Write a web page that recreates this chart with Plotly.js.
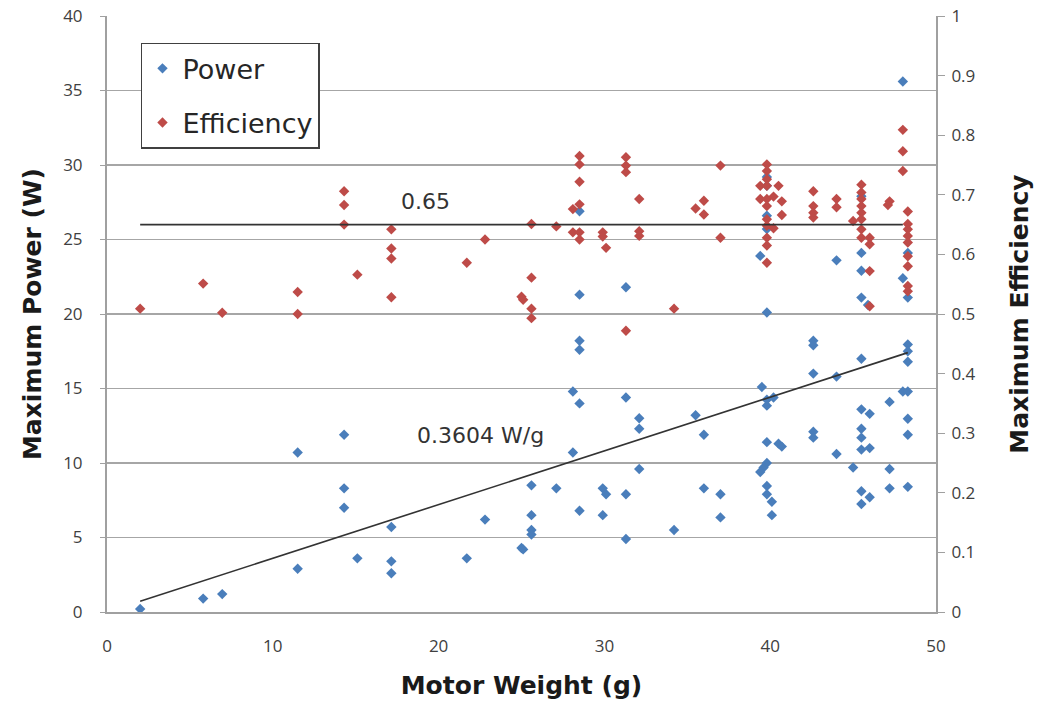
<!DOCTYPE html>
<html>
<head>
<meta charset="utf-8">
<script src="https://cdn.plot.ly/plotly-3.0.1.min.js"></script>
<style>html,body{margin:0;padding:0;background:#fff;}#chart{width:1040px;height:705px;}</style>
</head>
<body>
<div id="chart"></div>
<script>
// Motor weight (g) and maximum power (W)
const powerWeight = [2.0,5.8,6.95,11.5,11.5,14.3,14.3,14.3,15.1,17.15,17.15,17.15,21.7,22.8,25.0,25.1,25.6,25.6,25.6,25.6,27.1,28.1,28.1,28.5,28.5,28.5,28.5,28.5,28.5,29.9,30.1,29.9,31.3,31.3,31.3,31.3,32.1,32.1,32.1,34.2,35.5,36.0,36.0,37.0,37.0,39.4,39.8,39.8,39.8,39.8,39.8,39.5,39.8,40.2,39.8,39.8,40.5,40.7,39.8,39.6,39.4,39.8,39.8,40.1,40.1,42.6,42.6,42.6,42.6,42.6,44.0,44.0,44.0,45.5,45.5,45.5,45.5,45.9,45.5,45.5,46.0,45.5,45.5,45.5,46.0,45.0,45.5,46.0,45.5,47.2,47.2,47.2,48.0,48.0,48.3,48.3,48.3,48.3,48.3,48.0,48.3,48.3,48.3,48.3];
const powerValues = [0.2,0.9,1.2,10.7,2.9,11.9,8.3,7.0,3.6,5.7,3.4,2.6,3.6,6.2,4.3,4.2,8.5,6.5,5.5,5.2,8.3,14.8,10.7,26.9,21.3,18.2,17.6,14.0,6.8,8.3,7.9,6.5,21.8,14.4,7.9,4.9,13.0,12.3,9.6,5.5,13.2,11.9,8.3,7.9,6.35,23.9,29.2,28.6,26.6,25.7,20.1,15.1,14.25,14.4,13.85,11.4,11.3,11.1,10.0,9.7,9.4,8.46,7.9,7.4,6.5,18.2,17.9,16.0,12.1,11.7,23.6,15.8,10.6,27.9,24.1,22.9,21.1,20.6,17.0,13.6,13.3,12.3,11.7,10.9,11.0,9.7,8.1,7.7,7.25,14.1,9.6,8.3,35.6,22.4,24.1,21.1,17.95,17.5,16.8,14.8,14.8,12.97,11.9,8.4];

// Motor weight (g) and maximum efficiency
const effWeight = [2.0,5.8,6.95,11.5,11.5,14.3,14.3,14.3,15.1,17.15,17.15,17.15,17.15,21.7,22.8,25.0,25.1,25.6,25.6,25.6,25.6,27.1,28.1,28.1,28.5,28.5,28.5,28.5,28.5,28.5,29.9,29.9,30.1,31.3,31.3,31.3,31.3,32.1,32.1,32.1,34.2,35.5,36.0,36.0,37.0,37.0,39.8,39.8,39.8,39.4,39.8,40.5,39.4,39.8,40.2,40.7,39.8,40.7,39.8,39.8,40.2,39.8,39.8,39.8,42.6,42.6,42.6,42.6,44.0,44.0,45.5,45.5,45.5,45.5,45.5,45.5,45.0,45.5,45.5,46.0,46.0,46.0,46.0,47.2,47.1,48.0,48.0,48.0,48.3,48.3,48.3,48.3,48.3,48.3,48.3,48.3,48.3];
const effValues = [0.509,0.551,0.502,0.537,0.500,0.706,0.683,0.650,0.566,0.642,0.610,0.593,0.528,0.586,0.625,0.529,0.524,0.651,0.561,0.509,0.493,0.647,0.676,0.637,0.765,0.751,0.722,0.684,0.637,0.625,0.637,0.630,0.611,0.763,0.749,0.738,0.472,0.693,0.639,0.631,0.509,0.677,0.690,0.667,0.749,0.628,0.751,0.740,0.726,0.715,0.715,0.715,0.693,0.693,0.697,0.689,0.681,0.666,0.659,0.648,0.644,0.628,0.615,0.586,0.706,0.681,0.670,0.662,0.693,0.679,0.717,0.704,0.693,0.681,0.670,0.659,0.656,0.642,0.628,0.628,0.617,0.572,0.513,0.689,0.683,0.809,0.773,0.740,0.672,0.651,0.642,0.631,0.620,0.597,0.580,0.547,0.538];

// Reference lines
const trendSlope = 0.3604;          // W/g, through origin
const trendX = [2.0, 48.3];
const effRefX = [2.0, 48.0];
const effRefValue = 0.65;

const xTicks = [0,10,20,30,40,50];
const yTicks = [0,5,10,15,20,25,30,35,40];
const y2Ticks = [0,0.1,0.2,0.3,0.4,0.5,0.6,0.7,0.8,0.9,1];
const y2TickText = ['0','0.1','0.2','0.3','0.4','0.5','0.6','0.7','0.8','0.9','1'];

const FONT = 'Open Sans, Liberation Sans, sans-serif';
const WIDE = 'DejaVu Sans, Open Sans, sans-serif';
const tickFont = {family: FONT, size: 17, color: '#404040'};
const titleFont = {family: WIDE, size: 25, color: '#1a1a1a', weight: 'bold'};

const traces = [
  {
    x: powerWeight, y: powerValues, name: 'Power', type: 'scatter', mode: 'markers',
    marker: {symbol: 'diamond', size: 8, color: '#4a7ebb'},
    legendgroup: 'p', xaxis: 'x', yaxis: 'y'
  },
  {
    x: effWeight, y: effValues, name: 'Efficiency', type: 'scatter', mode: 'markers',
    marker: {symbol: 'diamond', size: 8, color: '#be4b48'},
    legendgroup: 'e', xaxis: 'x', yaxis: 'y2'
  },
  {
    x: trendX, y: trendX.map(v => v * trendSlope), type: 'scatter', mode: 'lines',
    line: {color: '#333333', width: 1.6}, showlegend: false, hoverinfo: 'skip', yaxis: 'y'
  },
  {
    x: effRefX, y: effRefX.map(() => effRefValue), type: 'scatter', mode: 'lines',
    line: {color: '#333333', width: 1.6}, showlegend: false, hoverinfo: 'skip', yaxis: 'y2'
  }
];

const layout = {
  width: 1040, height: 705,
  margin: {l: 107, r: 104, t: 16, b: 93},
  paper_bgcolor: '#ffffff', plot_bgcolor: '#ffffff',
  showlegend: true,
  legend: {
    x: 0.041, y: 0.955, xanchor: 'left', yanchor: 'top',
    bgcolor: '#ffffff', bordercolor: '#404040', borderwidth: 1.5,
    font: {family: WIDE, size: 27, color: '#262626'},
    traceorder: 'grouped', tracegroupgap: 16, itemwidth: 30
  },
  xaxis: {
    range: [0, 50], tickvals: xTicks, ticktext: xTicks.map(String),
    showgrid: false, zeroline: false, showline: true, linecolor: '#a0a0a0', linewidth: 2,
    ticks: '', tickfont: tickFont, ticklabelstandoff: 18, automargin: false,
    title: {text: 'Motor Weight (g)', font: titleFont, standoff: 20}
  },
  yaxis: {
    range: [0, 40], tickvals: yTicks, ticktext: yTicks.map(String),
    showgrid: true, gridcolor: '#a6a6a6', gridwidth: 1.5, zeroline: false,
    showline: true, linecolor: '#a0a0a0', linewidth: 2, mirror: false,
    ticks: 'outside', ticklen: 5, tickcolor: '#a0a0a0', tickfont: tickFont,
    ticklabelstandoff: 14, automargin: false,
    title: {text: 'Maximum Power (W)', font: titleFont, standoff: 14}
  },
  yaxis2: {
    range: [0, 1], tickvals: y2Ticks, ticktext: y2TickText, overlaying: 'y', side: 'right',
    showgrid: false, zeroline: false, showline: true, linecolor: '#a0a0a0', linewidth: 2,
    ticks: 'outside', ticklen: 7, tickcolor: '#a0a0a0', tickfont: tickFont,
    ticklabelstandoff: 3, automargin: false,
    title: {text: 'Maximum Efficiency', font: titleFont, standoff: 36}
  },
  annotations: [
    {x: 19.2, y: 0.688, xref: 'x', yref: 'y2', text: '0.65', showarrow: false,
     font: {family: WIDE, size: 22, color: '#333333'}},
    {x: 22.5, y: 11.83, xref: 'x', yref: 'y', text: '0.3604 W/g', showarrow: false,
     font: {family: WIDE, size: 22, color: '#333333'}}
  ]
};

Plotly.newPlot('chart', traces, layout, {displayModeBar: false, staticPlot: true});
</script>
</body>
</html>
